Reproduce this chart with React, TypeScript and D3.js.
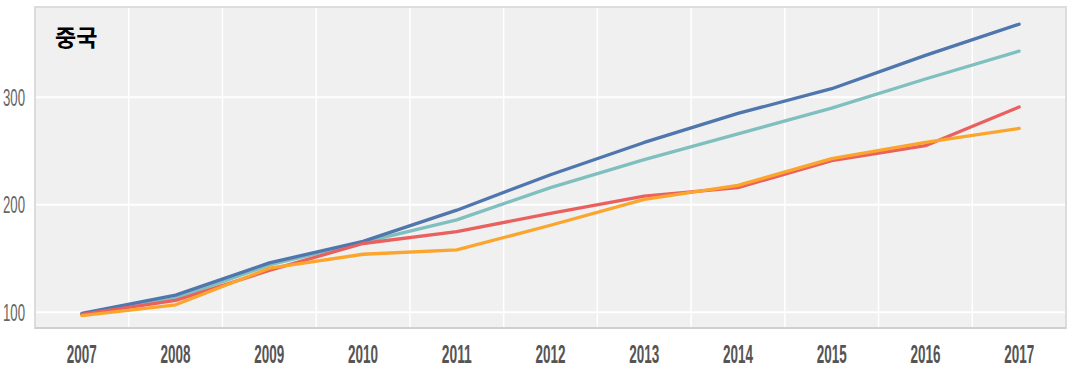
import React from 'react';
import * as d3 from 'd3';

const years = ['2007', '2008', '2009', '2010', '2011', '2012', '2013', '2014', '2015', '2016', '2017'];
const blueSeries = [99, 116, 146, 166, 195, 228, 258, 285, 308, 339, 368];
const tealSeries = [98, 113, 144, 165, 186, 216, 242, 266, 290, 317, 343];
const redSeries = [98, 111, 139, 164, 175, 192, 208, 216, 241, 255, 291];
const orangeSeries = [97, 107, 141, 154, 158, 181, 205, 218, 243, 258, 271];
const yTicks = [100, 200, 300];
const title = '중국';

const series = [
  { name: 'teal', values: tealSeries, color: '#80bfbf' },
  { name: 'blue', values: blueSeries, color: '#4f76ad' },
  { name: 'red', values: redSeries, color: '#e9605f' },
  { name: 'orange', values: orangeSeries, color: '#fba52c' },
];

const W = 1073;
const H = 370;
const plot = { left: 35, right: 1066, top: 7, bottom: 328 };

export default function App() {
  const x = d3.scaleBand<string>()
    .domain(years)
    .range([plot.left, plot.right]);

  const y = d3.scaleLinear()
    .domain([100, 300])
    .range([312.3, 97.3]);

  const line = d3.line<number>()
    .x((_, i) => (x(years[i]) as number) + x.bandwidth() / 2)
    .y(d => y(d));

  // gridlines sit on the band edges
  const vGrid = years.slice(1).map(yr => x(yr) as number);

  return (
    <div style={{ position: 'absolute', left: 0, top: 0 }}>
      <svg width={W} height={H} style={{ display: 'block', background: '#fff' }}>
        <rect x={plot.left} y={plot.top} width={plot.right - plot.left} height={plot.bottom - plot.top}
          fill="#f0f0f0" stroke="#dcdcdc" strokeWidth={2} />
        {vGrid.map((gx, i) => (
          <line key={'v' + i} x1={gx} x2={gx} y1={plot.top + 1} y2={plot.bottom - 1}
            stroke="#ffffff" strokeWidth={1.5} />
        ))}
        {yTicks.map(t => (
          <line key={'h' + t} x1={plot.left + 1} x2={plot.right - 1} y1={y(t)} y2={y(t)}
            stroke="#ffffff" strokeWidth={2} />
        ))}
        <line x1={plot.left} x2={plot.right} y1={plot.bottom} y2={plot.bottom} stroke="#cfcfcf" strokeWidth={2} />

        {series.map(s => (
          <path key={s.name} d={line(s.values) || ''} fill="none" stroke={s.color}
            strokeWidth={3.3} strokeLinejoin="round" strokeLinecap="round" />
        ))}

        {yTicks.map(t => (
          <text key={'yt' + t} x={25} y={y(t)} dy="0.36em" textAnchor="end"
            fontFamily="'Liberation Sans Narrow', 'Liberation Sans', Arial, sans-serif"
            fontSize={24} fill="#666" textLength={22} lengthAdjust="spacingAndGlyphs">
            {t}
          </text>
        ))}

        {years.map(yr => (
          <text key={'xt' + yr} x={(x(yr) as number) + x.bandwidth() / 2} y={363}
            textAnchor="middle"
            fontFamily="'Liberation Sans Narrow', 'Liberation Sans', Arial, sans-serif"
            fontSize={25} fontWeight="bold" fill="#555" textLength={30} lengthAdjust="spacingAndGlyphs">
            {yr}
          </text>
        ))}

        <text x={55} y={46} fontFamily="'Noto Sans CJK KR', sans-serif" fontWeight="bold"
          fontSize={23} fill="#000">
          {title}
        </text>
      </svg>
    </div>
  );
}
